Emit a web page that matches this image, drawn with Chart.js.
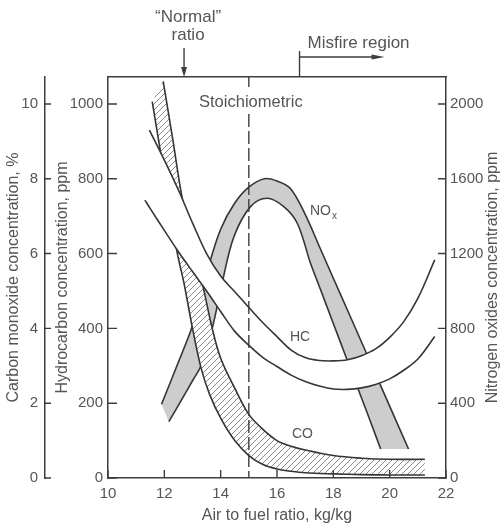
<!DOCTYPE html>
<html>
<head>
<meta charset="utf-8">
<style>
html,body{margin:0;padding:0;background:#fff;}
#wrap{width:504px;height:528px;}
</style>
<script src="https://cdn.jsdelivr.net/npm/chart.js@4.4.1/dist/chart.umd.min.js"></script>
</head>
<body>
<div id="wrap"><canvas id="c" width="504" height="528"></canvas></div>
<script>
// ---- data ----
const airFuelTicks = [10, 12, 14, 16, 18, 20, 22];
const hcTicks = [0, 200, 400, 600, 800, 1000];
const coTicks = [0, 2, 4, 6, 8, 10];
const noxTicks = [0, 400, 800, 1200, 1600, 2000];

// Hydrocarbon band, ppm
const hcUpperX = [11.47, 12.0, 12.5, 13.0, 13.5, 14.0, 14.5, 15.0, 15.5, 16.0, 16.5, 17.0, 17.5, 18.0, 18.5, 19.0, 19.5, 20.0, 20.5, 21.0, 21.6];
const hcUpperY = [930, 850, 770, 682, 600, 540, 498, 456, 415, 378, 342, 322, 314, 313, 316, 327, 345, 376, 418, 480, 583];
const hcLowerX = [11.31, 11.5, 12.0, 12.5, 13.0, 13.5, 14.0, 14.5, 15.0, 15.5, 16.0, 16.5, 17.0, 17.5, 18.0, 18.5, 19.0, 19.5, 20.0, 20.5, 21.0, 21.6];
const hcLowerY = [743, 720, 662, 605, 552, 500, 445, 392, 355, 322, 298, 275, 258, 246, 238, 237, 241, 250, 265, 288, 318, 378];

// Carbon monoxide band, %
const coUpperX = [11.96, 12.3, 12.63, 13.0, 13.4, 13.7, 14.0, 14.5, 15.0, 15.5, 16.0, 16.5, 17.0, 18.0, 19.0, 20.0, 21.25];
const coUpperY = [10.6, 9.05, 7.5, 6.3, 5.03, 4.0, 3.2, 2.4, 1.7, 1.3, 1.0, 0.85, 0.75, 0.6, 0.53, 0.5, 0.5];
const coLowerX = [11.57, 12.0, 12.45, 12.7, 13.0, 13.3, 13.6, 14.0, 14.5, 15.0, 15.5, 16.0, 16.5, 17.0, 18.0, 19.0, 20.0, 21.25];
const coLowerY = [10.06, 8.1, 6.05, 5.2, 4.0, 2.95, 2.25, 1.6, 1.0, 0.6, 0.36, 0.24, 0.18, 0.14, 0.11, 0.09, 0.08, 0.08];

// Nitrogen oxides band, ppm
const noxOuterX = [11.9, 12.5, 12.93, 13.3, 13.57, 14.0, 14.5, 15.0, 15.55, 16.0, 16.47, 17.0, 17.5, 18.0, 18.5, 19.0, 19.5, 20.0, 20.67];
const noxOuterY = [394, 620, 785, 960, 1130, 1330, 1470, 1555, 1600, 1588, 1549, 1410, 1239, 1068, 898, 727, 556, 384, 155];
const noxInnerX = [12.16, 12.6, 13.0, 13.3, 13.7, 14.05, 14.47, 15.06, 15.65, 16.24, 16.72, 17.19, 17.5, 18.0, 18.5, 19.0, 19.3, 19.68];
const noxInnerY = [301, 415, 520, 600, 800, 1041, 1290, 1451, 1496, 1451, 1362, 1148, 1025, 826, 627, 428, 309, 155];

// marked air/fuel ratios
const stoichiometricRatio = 15;
const normalRatio = 12.7;
const misfireStart = 16.8;

// curve labels (anchor in data units)
const hcLabel = {x: 16.46, y: 377};
const coLabel = {x: 16.53, y: 1.18};
const noxLabel = {x: 17.17, y: 1428};

// ---- styles ----
const AXIS = '#3d3d3d';
const INK = '#353535';
const TEXT = '#555555';
const FONT = "'Liberation Sans', Arial, sans-serif";

function pts(xs, ys) { return xs.map((x, i) => ({x: x, y: ys[i]})); }

const hatchCanvas = document.createElement('canvas');
hatchCanvas.width = 6; hatchCanvas.height = 6;
const hctx = hatchCanvas.getContext('2d');
hctx.fillStyle = '#fff'; hctx.fillRect(0, 0, 6, 6);
hctx.strokeStyle = '#8a8a8a'; hctx.lineWidth = 1;
hctx.beginPath();
hctx.moveTo(0, 6); hctx.lineTo(6, 0);
hctx.moveTo(-1, 1); hctx.lineTo(1, -1);
hctx.moveTo(5, 7); hctx.lineTo(7, 5);
hctx.stroke();
const hatch = hctx.createPattern(hatchCanvas, 'repeat');

const lineStyle = {borderColor: INK, borderWidth: 1.6, pointRadius: 0, pointHoverRadius: 0, fill: false, tension: 0.35};

const decor = {
  id: 'decor',
  beforeDatasetDraw(chart, args) {
    const ds = chart.data.datasets[args.index];
    if (!ds.band) return;
    const a = args.meta.dataset;
    const b = chart.getDatasetMeta(ds.band.partner).dataset;
    const ctx = chart.ctx, area = chart.chartArea;
    ctx.save();
    ctx.beginPath();
    ctx.rect(area.left, area.top, area.right - area.left, area.bottom - area.top);
    ctx.clip();
    ctx.beginPath();
    a.pathSegment(ctx, a.segments[0], {move: true});
    b.pathSegment(ctx, b.segments[0], {move: false, reverse: true});
    ctx.closePath();
    ctx.fillStyle = ds.band.fill;
    ctx.fill();
    ctx.restore();
  },
  afterDatasetsDraw(chart) {
    const ctx = chart.ctx, a = chart.chartArea, s = chart.scales;
    ctx.save();
    ctx.strokeStyle = AXIS; ctx.lineWidth = 1.4;
    ctx.beginPath();
    airFuelTicks.forEach(v => { const p = s.x.getPixelForValue(v); ctx.moveTo(p, a.bottom); ctx.lineTo(p, a.bottom - 8); });
    hcTicks.forEach(v => { const p = s.yHC.getPixelForValue(v); ctx.moveTo(a.left, p); ctx.lineTo(a.left + 9, p); });
    noxTicks.forEach(v => { const p = s.yNOx.getPixelForValue(v); ctx.moveTo(a.right, p); ctx.lineTo(a.right - 8, p); });
    coTicks.forEach(v => { const p = s.yCO.getPixelForValue(v); ctx.moveTo(s.yCO.right, p); ctx.lineTo(s.yCO.right + 6, p); });
    ctx.stroke();

    // stoichiometric dashed line, broken by its label
    const sx = s.x.getPixelForValue(stoichiometricRatio);
    ctx.setLineDash([13, 4]);
    ctx.beginPath();
    ctx.moveTo(sx, a.top); ctx.lineTo(sx, a.top + 10);
    ctx.moveTo(sx, a.top + 37); ctx.lineTo(sx, a.bottom);
    ctx.stroke();
    ctx.setLineDash([]);
    ctx.fillStyle = TEXT; ctx.textAlign = 'center'; ctx.textBaseline = 'middle';
    ctx.font = '16.5px ' + FONT;
    ctx.fillText('Stoichiometric', sx + 2, a.top + 25);

    // curve labels
    ctx.textAlign = 'left';
    ctx.font = '14px ' + FONT;
    ctx.fillText('HC', s.x.getPixelForValue(hcLabel.x), s.yHC.getPixelForValue(hcLabel.y));
    ctx.fillText('CO', s.x.getPixelForValue(coLabel.x), s.yCO.getPixelForValue(coLabel.y));
    const nxp = s.x.getPixelForValue(noxLabel.x), nyp = s.yNOx.getPixelForValue(noxLabel.y);
    ctx.fillText('NO', nxp, nyp);
    const w = ctx.measureText('NO').width;
    ctx.font = '10px ' + FONT;
    ctx.fillText('x', nxp + w + 1, nyp + 5);
    ctx.restore();
  },
  afterDraw(chart) {
    const ctx = chart.ctx, a = chart.chartArea, s = chart.scales;
    ctx.save();
    ctx.strokeStyle = AXIS; ctx.fillStyle = AXIS; ctx.lineWidth = 1.4;
    // "Normal" ratio arrow
    const nx = s.x.getPixelForValue(normalRatio);
    ctx.beginPath(); ctx.moveTo(nx, 48); ctx.lineTo(nx, a.top - 7); ctx.stroke();
    ctx.beginPath(); ctx.moveTo(nx, a.top); ctx.lineTo(nx - 3, a.top - 10); ctx.lineTo(nx + 3, a.top - 10); ctx.closePath(); ctx.fill();
    // misfire region marker
    const mx = s.x.getPixelForValue(misfireStart);
    ctx.beginPath();
    ctx.moveTo(mx, 51); ctx.lineTo(mx, a.top);
    ctx.moveTo(mx, 57); ctx.lineTo(mx + 74, 57);
    ctx.stroke();
    ctx.beginPath(); ctx.moveTo(mx + 85, 57); ctx.lineTo(mx + 72, 54.5); ctx.lineTo(mx + 72, 59.5); ctx.closePath(); ctx.fill();

    ctx.fillStyle = TEXT; ctx.textBaseline = 'middle';
    ctx.font = '17px ' + FONT;
    ctx.textAlign = 'center';
    ctx.fillText('\u201CNormal\u201D', nx + 4, 17);
    ctx.fillText('ratio', nx + 4, 35);
    ctx.textAlign = 'left';
    ctx.fillText('Misfire region', mx + 8, 43);

    // right axis title, reading bottom to top
    ctx.font = '16px ' + FONT;
    ctx.textAlign = 'center';
    ctx.translate(s.yNOx.right - 11, (a.top + a.bottom) / 2);
    ctx.rotate(-Math.PI / 2);
    ctx.fillText('Nitrogen oxides concentration, ppm', 0, 0);
    ctx.restore();
  }
};

const tickFont = {family: FONT, size: 15};
const titleFont = {family: FONT, size: 16};
const plainLabel = v => String(v);

new Chart(document.getElementById('c'), {
  type: 'line',
  data: {
    datasets: [
      Object.assign({label: 'NOx outer', data: pts(noxOuterX, noxOuterY), yAxisID: 'yNOx', order: 6, band: {partner: 1, fill: '#cdcdcd'}}, lineStyle),
      Object.assign({label: 'NOx inner', data: pts(noxInnerX, noxInnerY), yAxisID: 'yNOx', order: 5}, lineStyle),
      Object.assign({label: 'CO upper', data: pts(coUpperX, coUpperY), yAxisID: 'yCO', order: 4, band: {partner: 3, fill: hatch}}, lineStyle),
      Object.assign({label: 'CO lower', data: pts(coLowerX, coLowerY), yAxisID: 'yCO', order: 3}, lineStyle),
      Object.assign({label: 'HC upper', data: pts(hcUpperX, hcUpperY), yAxisID: 'yHC', order: 2, band: {partner: 5, fill: '#ffffff'}}, lineStyle),
      Object.assign({label: 'HC lower', data: pts(hcLowerX, hcLowerY), yAxisID: 'yHC', order: 1}, lineStyle)
    ]
  },
  options: {
    responsive: false,
    devicePixelRatio: 1,
    animation: false,
    events: [],
    layout: {padding: 0},
    plugins: {legend: {display: false}, tooltip: {enabled: false}},
    scales: {
      x: {
        type: 'linear', position: 'bottom', min: 10, max: 22,
        afterBuildTicks: sc => { sc.ticks = airFuelTicks.map(v => ({value: v})); },
        ticks: {color: TEXT, font: tickFont, padding: 7, maxRotation: 0, autoSkip: false, callback: plainLabel},
        grid: {display: false, drawTicks: false},
        border: {display: true, color: AXIS, width: 1.5},
        title: {display: true, text: 'Air to fuel ratio, kg/kg', color: TEXT, font: titleFont, padding: {top: 0, bottom: 3}},
        afterFit: sc => { sc.height = 50; }
      },
      xTop: {
        type: 'linear', position: 'top', min: 10, max: 22,
        ticks: {display: false},
        grid: {display: false, drawTicks: false},
        border: {display: true, color: AXIS, width: 1.5},
        afterFit: sc => { sc.height = 77; }
      },
      yHC: {
        type: 'linear', position: 'left', weight: 0, min: 0, max: 1072,
        afterBuildTicks: sc => { sc.ticks = hcTicks.map(v => ({value: v})); },
        ticks: {color: TEXT, font: tickFont, padding: 5, callback: plainLabel},
        grid: {display: false, drawTicks: false},
        border: {display: true, color: AXIS, width: 1.5},
        title: {display: true, text: 'Hydrocarbon concentration, ppm', color: TEXT, font: titleFont, padding: {top: 8, bottom: 0}},
        afterFit: sc => { sc.width = 63; }
      },
      yCO: {
        type: 'linear', position: 'left', weight: 1, min: 0, max: 10.72,
        afterBuildTicks: sc => { sc.ticks = coTicks.map(v => ({value: v})); },
        ticks: {color: TEXT, font: tickFont, padding: 7, callback: plainLabel},
        grid: {display: false, drawTicks: false},
        border: {display: true, color: AXIS, width: 1.5},
        title: {display: true, text: 'Carbon monoxide concentration, %', color: TEXT, font: titleFont, padding: {top: 4, bottom: 0}},
        afterFit: sc => { sc.width = 45; }
      },
      yNOx: {
        type: 'linear', position: 'right', min: 0, max: 2144,
        afterBuildTicks: sc => { sc.ticks = noxTicks.map(v => ({value: v})); },
        ticks: {color: TEXT, font: tickFont, padding: 4, callback: plainLabel},
        grid: {display: false, drawTicks: false},
        border: {display: true, color: AXIS, width: 1.5},
        afterFit: sc => { sc.width = 58; }
      }
    }
  },
  plugins: [decor]
});
</script>
</body>
</html>
